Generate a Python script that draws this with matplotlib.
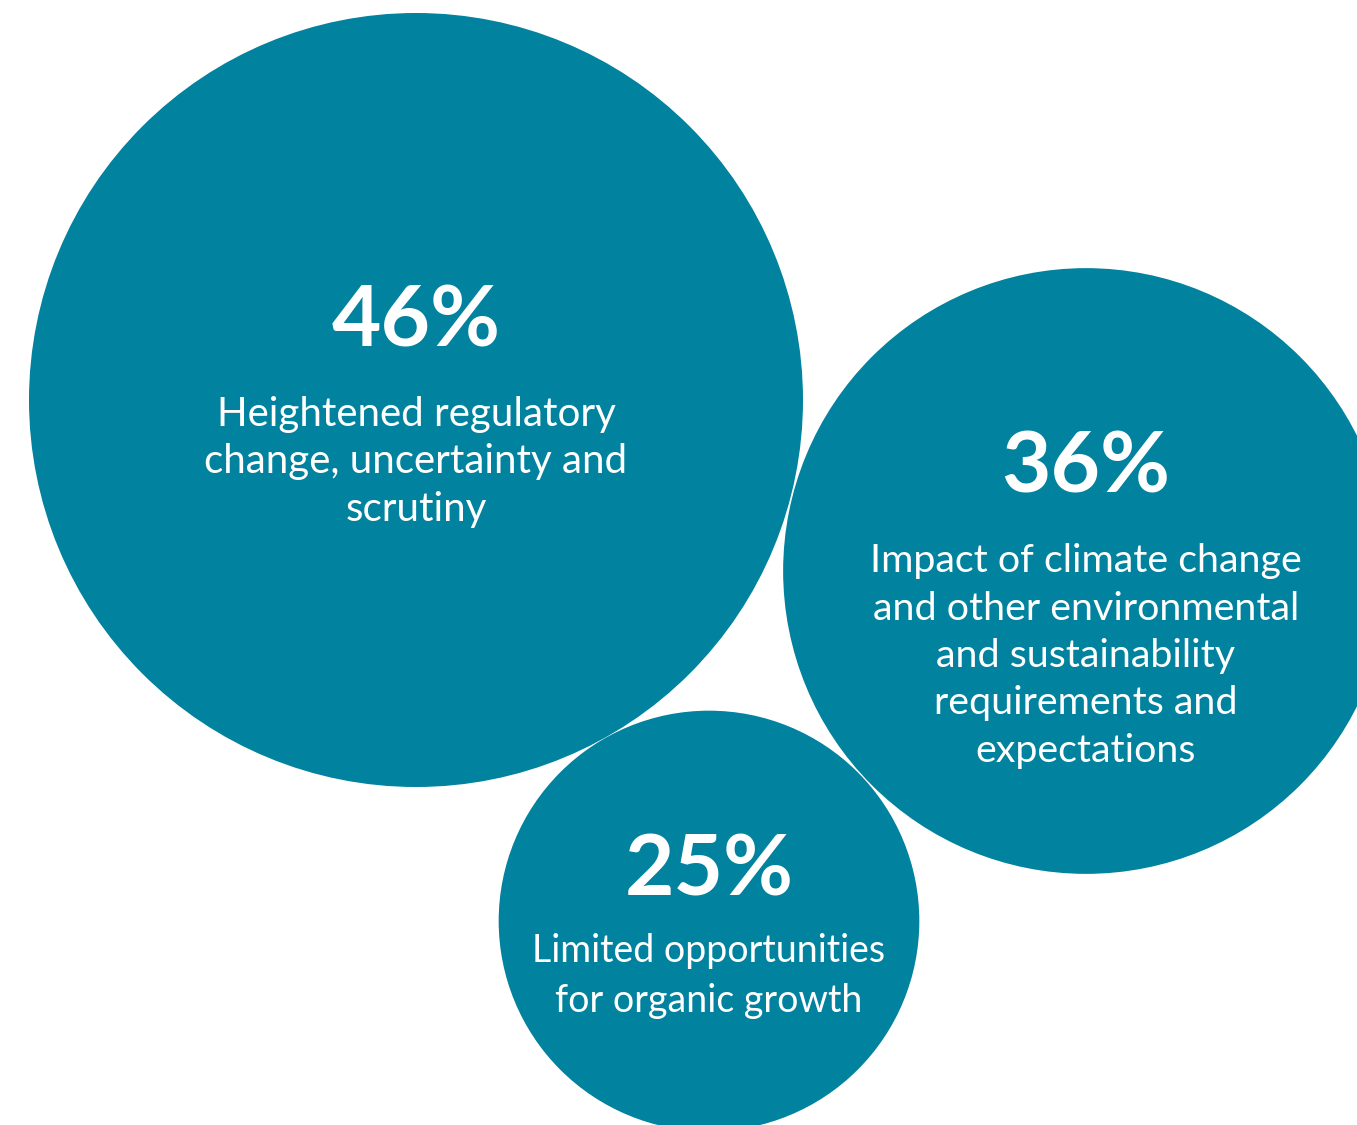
import matplotlib
matplotlib.use("Agg")
import matplotlib.pyplot as plt
from matplotlib.patches import Circle

values = [46, 36, 25]
pct_labels = ["46%", "36%", "25%"]
descriptions = [
    "Heightened regulatory\nchange, uncertainty and\nscrutiny",
    "Impact of climate change\nand other environmental\nand sustainability\nrequirements and\nexpectations",
    "Limited opportunities\nfor organic growth",
]

# layout (pixel coordinates)
centers = [(416, 400), (1086, 571), (709, 921)]
px_per_unit = 387 / 46
pct_y = [322, 468, 871]
desc_y = [462, 656, 976]
desc_size = [29, 28.4, 27]
line_px = 48

W, H = 1357, 1125
fig = plt.figure(figsize=(W / 100, H / 100), dpi=100)
ax = fig.add_axes([0, 0, 1, 1])
ax.set_xlim(0, W)
ax.set_ylim(H, 0)
ax.set_aspect("equal")
ax.axis("off")

color = "#01829E"
for (cx, cy), v, p, d, py, dy, fs in zip(centers, values, pct_labels, descriptions,
                                         pct_y, desc_y, desc_size):
    ax.add_patch(Circle((cx, cy), v * px_per_unit, facecolor=color, edgecolor="none"))
    ax.text(cx, py, p, ha="center", va="center", color="white",
            fontsize=61.5, fontweight="bold", family=["Lato", "DejaVu Sans"])
    ax.text(cx, dy, d, ha="center", va="center", color="white",
            fontsize=fs, family=["Lato", "DejaVu Sans"], linespacing=1.36 * 29 / fs)

fig.savefig("out.png", dpi=100, facecolor="white")
